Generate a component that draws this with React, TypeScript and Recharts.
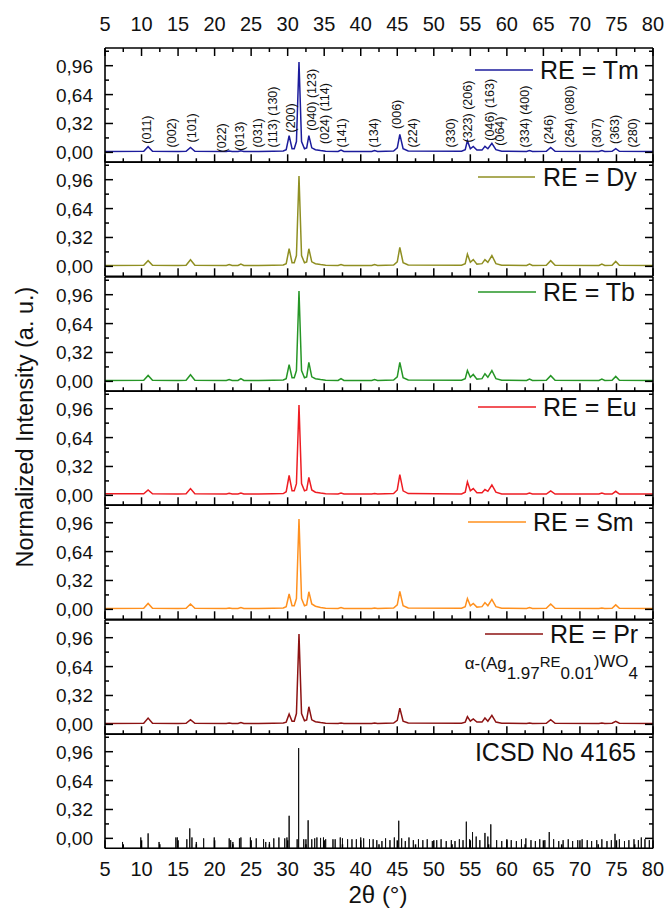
import { ComposedChart, Line, Scatter, XAxis, YAxis } from "recharts";

// 2theta grid shared by the measured patterns (degrees)
const twoTheta = [
  5, 10.3, 10.9, 11.5, 15.0, 16.1, 16.7, 17.3, 21.6, 22.0,
  22.4, 23.2, 23.6, 24.0, 26.0, 28.0, 29.4, 29.8, 30.2, 30.6,
  30.9, 31.2, 31.55, 31.9, 32.3, 32.6, 32.9, 33.3, 33.8, 34.5,
  35.2, 36.9, 37.3, 37.7, 41.5, 41.9, 42.3, 44.5, 45.0, 45.35,
  45.8, 46.5, 53.8, 54.3, 54.6, 55.0, 55.4, 55.9, 56.6, 57.0,
  57.4, 57.95, 58.5, 59.3, 62.7, 63.1, 63.5, 65.4, 66.0, 66.6,
  72.6, 73.0, 73.4, 74.4, 74.9, 75.4, 80,
];

const intensityTm = [
  0.01, 0.012, 0.063, 0.012, 0.01, 0.012, 0.055, 0.012, 0.01, 0.015,
  0.01, 0.01, 0.018, 0.01, 0.01, 0.012, 0.015, 0.03, 0.185, 0.04,
  0.04, 0.12, 1.0, 0.12, 0.04, 0.05, 0.185, 0.05, 0.03, 0.02,
  0.012, 0.01, 0.025, 0.01, 0.01, 0.02, 0.01, 0.015, 0.05, 0.2,
  0.04, 0.015, 0.012, 0.03, 0.13, 0.04, 0.066, 0.025, 0.025, 0.066,
  0.04, 0.1, 0.03, 0.012, 0.01, 0.02, 0.01, 0.012, 0.055, 0.012,
  0.01, 0.02, 0.01, 0.012, 0.04, 0.012, 0.01,
];

const intensityDy = [
  0.01, 0.012, 0.063, 0.012, 0.01, 0.012, 0.074, 0.012, 0.01, 0.02,
  0.01, 0.01, 0.026, 0.01, 0.01, 0.012, 0.015, 0.03, 0.195, 0.04,
  0.04, 0.12, 1.0, 0.12, 0.04, 0.05, 0.195, 0.05, 0.03, 0.02,
  0.012, 0.01, 0.02, 0.01, 0.01, 0.02, 0.01, 0.015, 0.05, 0.21,
  0.04, 0.015, 0.012, 0.03, 0.135, 0.045, 0.075, 0.025, 0.03, 0.075,
  0.045, 0.12, 0.03, 0.012, 0.01, 0.025, 0.01, 0.012, 0.063, 0.012,
  0.01, 0.025, 0.01, 0.012, 0.055, 0.012, 0.01,
];

const intensityTb = [
  0.01, 0.012, 0.066, 0.012, 0.01, 0.012, 0.074, 0.012, 0.01, 0.02,
  0.01, 0.01, 0.03, 0.01, 0.01, 0.012, 0.015, 0.03, 0.185, 0.04,
  0.04, 0.12, 1.0, 0.12, 0.04, 0.05, 0.21, 0.05, 0.03, 0.02,
  0.012, 0.01, 0.03, 0.01, 0.01, 0.02, 0.01, 0.015, 0.05, 0.21,
  0.04, 0.015, 0.012, 0.03, 0.12, 0.045, 0.077, 0.025, 0.03, 0.085,
  0.045, 0.12, 0.03, 0.012, 0.01, 0.025, 0.01, 0.012, 0.063, 0.012,
  0.01, 0.025, 0.01, 0.012, 0.055, 0.012, 0.01,
];

const intensityEu = [
  0.018, 0.018, 0.06, 0.018, 0.015, 0.018, 0.075, 0.018, 0.015, 0.022,
  0.015, 0.015, 0.025, 0.015, 0.015, 0.018, 0.02, 0.04, 0.22, 0.05,
  0.05, 0.13, 1.0, 0.13, 0.05, 0.06, 0.2, 0.06, 0.035, 0.025,
  0.018, 0.015, 0.025, 0.015, 0.015, 0.02, 0.015, 0.02, 0.06, 0.23,
  0.05, 0.02, 0.015, 0.035, 0.15, 0.05, 0.075, 0.03, 0.03, 0.065,
  0.045, 0.115, 0.035, 0.015, 0.015, 0.025, 0.015, 0.015, 0.05, 0.015,
  0.015, 0.025, 0.015, 0.015, 0.045, 0.015, 0.015,
];

const intensitySm = [
  0.01, 0.012, 0.066, 0.012, 0.01, 0.012, 0.06, 0.012, 0.01, 0.015,
  0.01, 0.01, 0.02, 0.01, 0.01, 0.012, 0.015, 0.03, 0.17, 0.04,
  0.04, 0.12, 1.0, 0.12, 0.04, 0.05, 0.195, 0.06, 0.035, 0.02,
  0.012, 0.01, 0.02, 0.01, 0.01, 0.015, 0.01, 0.015, 0.05, 0.2,
  0.04, 0.015, 0.012, 0.03, 0.12, 0.04, 0.066, 0.025, 0.03, 0.075,
  0.04, 0.11, 0.03, 0.012, 0.01, 0.02, 0.01, 0.012, 0.06, 0.012,
  0.01, 0.015, 0.01, 0.012, 0.05, 0.012, 0.01,
];

const intensityPr = [
  0.01, 0.012, 0.07, 0.012, 0.01, 0.012, 0.052, 0.012, 0.01, 0.015,
  0.01, 0.01, 0.02, 0.01, 0.01, 0.012, 0.015, 0.025, 0.115, 0.035,
  0.035, 0.12, 1.0, 0.12, 0.04, 0.05, 0.195, 0.05, 0.03, 0.02,
  0.012, 0.01, 0.015, 0.01, 0.01, 0.015, 0.01, 0.015, 0.045, 0.18,
  0.035, 0.015, 0.012, 0.025, 0.085, 0.035, 0.06, 0.025, 0.025, 0.07,
  0.035, 0.1, 0.025, 0.012, 0.01, 0.015, 0.01, 0.012, 0.052, 0.012,
  0.01, 0.015, 0.01, 0.012, 0.033, 0.012, 0.01,
];

// ICSD No 4165 reference pattern: [2theta, intensity]
const icsdSticks: [number, number][] = [
  [7.4, -0.04], [9.9, 0.01], [10.9, 0.055], [12.4, -0.04], [14.7, 0.01], [14.9, 0.01], [16.2, -0.01], [16.6, 0.11], [16.9, 0.01], [17.5, -0.04],
  [18.5, 0], [19.95, 0.01], [22.0, 0], [22.2, -0.02], [22.5, -0.04], [23.4, 0], [23.6, 0.01], [24.9, 0.01], [25.7, 0], [26.7, -0.01],
  [27.0, -0.04], [27.5, -0.04], [28.1, 0], [28.8, 0.01], [29.6, 0], [29.9, 0.01], [30.2, 0.25], [31.3, -0.01], [31.5, 1.0], [32.2, -0.01],
  [32.5, -0.01], [32.8, 0.2], [33.3, -0.01], [33.7, 0], [34.0, 0.01], [34.5, 0.005], [34.9, 0.01], [35.2, -0.01], [36.2, -0.01], [36.5, -0.01],
  [37.2, 0.01], [37.5, 0], [38.2, -0.01], [38.8, -0.01], [39.4, -0.01], [40.0, 0.01], [40.4, 0], [41.2, -0.01], [41.7, -0.01], [42.2, -0.02],
  [42.9, -0.03], [43.4, 0], [44.0, -0.02], [44.6, 0.01], [45.2, 0.195], [45.6, 0], [46.1, -0.03], [46.6, 0.01], [47.2, -0.02], [47.9, -0.01],
  [48.5, -0.02], [49.1, -0.01], [49.8, -0.03], [50.4, -0.02], [51.0, -0.01], [51.7, -0.03], [52.4, -0.02], [52.9, -0.03], [53.5, -0.01], [54.0, -0.02],
  [54.45, 0.185], [54.9, -0.01], [55.3, 0.07], [55.8, 0.02], [56.3, -0.02], [57.0, 0.06], [57.4, 0.02], [57.8, 0.155], [58.6, -0.02], [59.3, -0.03],
  [60.0, -0.01], [60.6, -0.02], [61.3, -0.03], [62.0, -0.01], [62.6, 0], [63.3, -0.02], [63.9, -0.03], [64.5, -0.01], [65.2, -0.02], [65.8, 0.07],
  [66.4, -0.01], [67.1, -0.03], [67.7, -0.02], [68.4, -0.01], [69.0, -0.03], [69.7, -0.02], [70.3, -0.01], [71.0, -0.02], [71.6, -0.03], [72.3, -0.02],
  [73.0, -0.01], [73.7, -0.03], [74.3, -0.02], [74.8, 0.05], [75.4, -0.01], [76.1, -0.03], [76.7, -0.02], [77.4, -0.01], [78.0, -0.02], [78.4, 0.01],
  [78.9, -0.01], [79.5, -0.02],
];

// Miller index annotations on the Tm pattern
const hklNames = [
  "(011)", "(002)", "(101)", "(022)", "(013)", "(031)", "(113) (130)", "(200)",
  "(040) (123)", "(024) (114)", "(141)", "(134)", "(006)", "(224)", "(330)",
  "(323) (206)", "(046) (163)", "(064)", "(334) (400)", "(246)", "(264) (080)",
  "(307)", "(363)", "(280)",
];
const hklTheta = [
  10.7, 14.2, 16.9, 21.0, 23.5, 25.9, 28.0, 30.5,
  33.3, 35.1, 37.5, 41.8, 44.9, 47.2, 52.4,
  54.7, 57.7, 59.1, 62.5, 65.7, 68.7,
  72.3, 74.8, 77.3,
];
const hklBase = [
  0.096, 0.055, 0.11, 0.0, 0.019, 0.055, 0.055, 0.22,
  0.24, 0.093, 0.055, 0.055, 0.26, 0.055, 0.055,
  0.11, 0.13, 0.074, 0.055, 0.093, 0.055,
  0.055, 0.093, 0.055,
];

const xTicks = [5, 7.5, 10, 12.5, 15, 17.5, 20, 22.5, 25, 27.5, 30, 32.5, 35, 37.5, 40, 42.5, 45, 47.5, 50, 52.5, 55, 57.5, 60, 62.5, 65, 67.5, 70, 72.5, 75, 77.5, 80];
const yTicks = [0, 0.16, 0.32, 0.48, 0.64, 0.8, 0.96, 1.12];
const Y_DOMAIN: [number, number] = [-0.11, 1.156];

const W = 665;
const PLOT_LEFT = 105;
const PLOT_RIGHT = 653;
const PANEL_TOP = 48;
const PANEL_H = 114.3;
const PAD = 40;
const FONT = '"Liberation Sans", Arial, Helvetica, sans-serif';
const INK = "#111";
const axisStyle = { stroke: "#000", strokeWidth: 1.6 };

const patterns = [
  { label: "RE = Tm", color: "#1c1c9c", values: intensityTm, line: [475, 533], textX: 540, dy: 22 },
  { label: "RE = Dy", color: "#8f8f22", values: intensityDy, line: [478, 535], textX: 543, dy: 15 },
  { label: "RE = Tb", color: "#269626", values: intensityTb, line: [478, 536], textX: 543, dy: 15 },
  { label: "RE = Eu", color: "#ee1d23", values: intensityEu, line: [478, 536], textX: 543, dy: 16 },
  { label: "RE = Sm", color: "#ff901e", values: intensitySm, line: [468, 526], textX: 533, dy: 17 },
  { label: "RE = Pr", color: "#8c1212", values: intensityPr, line: [485, 543], textX: 550, dy: 14 },
];

const isMajorX = (v: number) => Math.abs(v % 5) < 1e-6;
const isMajorY = (v: number) => Math.abs(v / 0.32 - Math.round(v / 0.32)) < 1e-6;
const fmtY = (v: number) => v.toFixed(2).replace(".", ",");

function XTick(props: any) {
  const { x, y, payload, side, showLabel } = props;
  const major = isMajorX(payload.value);
  const dir = side === "top" ? 1 : -1;
  const len = major ? 8 : 4;
  return (
    <g>
      <line x1={x} x2={x} y1={y} y2={y + dir * len} stroke="#000" strokeWidth={1.5} />
      {showLabel && major && (
        <text x={x} y={side === "top" ? y - 17 : y + 28} textAnchor="middle" fontSize={20} fontFamily={FONT} fill={INK}>
          {payload.value}
        </text>
      )}
    </g>
  );
}

function YTick(props: any) {
  const { x, y, payload, side } = props;
  const major = isMajorY(payload.value);
  const dir = side === "left" ? 1 : -1;
  const len = major ? 8 : 4;
  return (
    <g>
      <line x1={x} x2={x + dir * len} y1={y} y2={y} stroke="#000" strokeWidth={1.5} />
      {side === "left" && major && (
        <text x={x - 12} y={y + 7} textAnchor="end" fontSize={19} fontFamily={FONT} fill={INK}>
          {fmtY(payload.value)}
        </text>
      )}
    </g>
  );
}

function HklLabel(props: any) {
  const { cx, cy, payload } = props;
  return (
    <text
      x={cx}
      y={cy}
      transform={`rotate(-90 ${cx} ${cy})`}
      textAnchor="start"
      dominantBaseline="central"
      fontSize={12.5}
      fontFamily={FONT}
      fill={INK}
    >
      {payload.text}
    </text>
  );
}

function Panel({ index, topLabels, bottomLabels, children }: any) {
  return (
    <div style={{ position: "absolute", left: 0, top: PANEL_TOP + index * PANEL_H - PAD }}>
      <ComposedChart width={W} height={PANEL_H + 2 * PAD} margin={{ top: 0, right: 0, bottom: 0, left: 0 }}>
        <XAxis
          xAxisId="b"
          orientation="bottom"
          type="number"
          dataKey="x"
          domain={[5, 80]}
          allowDataOverflow
          ticks={xTicks}
          interval={0}
          height={PAD}
          tickSize={0}
          tickMargin={0}
          tickLine={false}
          axisLine={axisStyle}
          tick={(p: any) => <XTick {...p} side="bottom" showLabel={bottomLabels} />}
        />
        <XAxis
          xAxisId="t"
          orientation="top"
          type="number"
          dataKey="x"
          domain={[5, 80]}
          allowDataOverflow
          ticks={xTicks}
          interval={0}
          height={PAD}
          tickSize={0}
          tickMargin={0}
          tickLine={false}
          axisLine={axisStyle}
          tick={topLabels ? (p: any) => <XTick {...p} side="top" showLabel /> : false}
        />
        <YAxis
          yAxisId="l"
          orientation="left"
          type="number"
          dataKey="y"
          domain={Y_DOMAIN}
          allowDataOverflow
          ticks={yTicks}
          interval={0}
          width={PLOT_LEFT}
          tickSize={0}
          tickMargin={0}
          tickLine={false}
          axisLine={axisStyle}
          tick={(p: any) => <YTick {...p} side="left" />}
        />
        <YAxis
          yAxisId="r"
          orientation="right"
          type="number"
          dataKey="y"
          domain={Y_DOMAIN}
          allowDataOverflow
          ticks={yTicks}
          interval={0}
          width={W - PLOT_RIGHT}
          tickSize={0}
          tickMargin={0}
          tickLine={false}
          axisLine={axisStyle}
          tick={(p: any) => <YTick {...p} side="right" />}
        />
        {children}
      </ComposedChart>
    </div>
  );
}

export default function App() {
  const hklRows = hklNames.map((text, i) => ({ x: hklTheta[i], y: hklBase[i], text }));
  const stickRows = icsdSticks.flatMap(([t, h]) => [
    { x: t, y: Y_DOMAIN[0] },
    { x: t, y: h },
    { x: t, y: Y_DOMAIN[0] },
  ]);

  return (
    <div style={{ position: "absolute", left: 0, top: 0, width: W, height: 910, background: "#fff" }}>
      {patterns.map((p, i) => {
        const rows = twoTheta.map((t, k) => ({ x: t, y: p.values[k] }));
        const ly = PAD + p.dy;
        return (
          <Panel key={p.label} index={i} topLabels={i === 0} bottomLabels={false}>
            <Line
              xAxisId="b"
              yAxisId="l"
              data={rows}
              dataKey="y"
              type="linear"
              stroke={p.color}
              strokeWidth={1.5}
              dot={false}
              isAnimationActive={false}
            />
            {i === 0 && (
              <Scatter xAxisId="b" yAxisId="l" data={hklRows} shape={HklLabel} isAnimationActive={false} />
            )}
            <line x1={p.line[0]} x2={p.line[1]} y1={ly} y2={ly} stroke={p.color} strokeWidth={1.6} />
            <text x={p.textX} y={ly + 9} fontSize={25} fontFamily={FONT} fill={INK}>
              {p.label}
            </text>
            {i === 5 && (
              <text x={638} y={ly + 35} textAnchor="end" fontSize={17} fontFamily={FONT} fill={INK}>
                α-(Ag
                <tspan dy={10}>1.97</tspan>
                <tspan dy={-12} fontSize={15}>RE</tspan>
                <tspan dy={12}>0.01</tspan>
                <tspan dy={-12}>)WO</tspan>
                <tspan dy={12}>4</tspan>
              </text>
            )}
          </Panel>
        );
      })}
      <Panel index={6} topLabels={false} bottomLabels>
        <Line
          xAxisId="b"
          yAxisId="l"
          data={stickRows}
          dataKey="y"
          type="linear"
          stroke="#111"
          strokeWidth={1}
          dot={false}
          isAnimationActive={false}
        />
        <text x={636} y={PAD + 27} textAnchor="end" fontSize={25} fontFamily={FONT} fill={INK}>
          ICSD No 4165
        </text>
      </Panel>
      <svg width={W} height={910} style={{ position: "absolute", left: 0, top: 0, pointerEvents: "none" }}>
        <text
          x={33}
          y={427}
          transform="rotate(-90 33 427)"
          textAnchor="middle"
          fontSize={23.5}
          fontFamily={FONT}
          fill={INK}
        >
          Normalized Intensity (a. u.)
        </text>
        <text x={378} y={903} textAnchor="middle" fontSize={24} fontFamily={FONT} fill={INK}>
          2θ (°)
        </text>
      </svg>
    </div>
  );
}
